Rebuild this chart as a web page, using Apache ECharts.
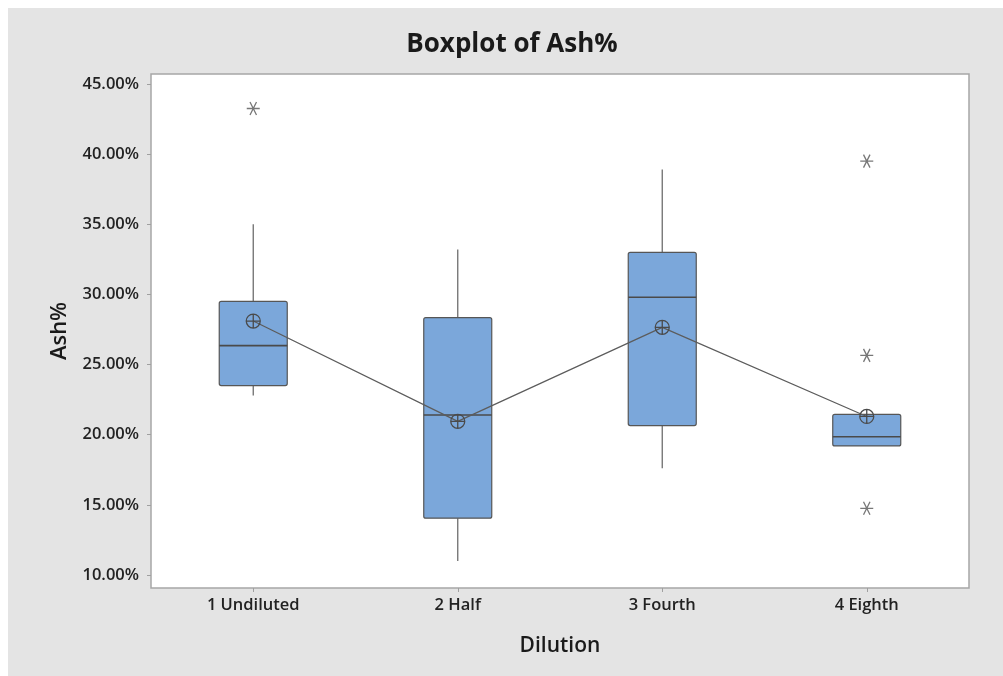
<!DOCTYPE html>
<html>
<head>
<meta charset="utf-8">
<title>Boxplot of Ash%</title>
<script src="https://cdn.jsdelivr.net/npm/echarts@6/dist/echarts.min.js"></script>
<style>
  html, body { margin: 0; padding: 0; background: #ffffff; }
  #chart { position: absolute; left: 8px; top: 8px; width: 995px; height: 668px; }
</style>
</head>
<body>
<div id="chart"></div>
<script>
// Dilution groups along the x axis
const categories = ['1 Undiluted', '2 Half', '3 Fourth', '4 Eighth'];

// Five-number summaries per group (values in %)
const whiskerLow  = [22.8, 11.0, 17.6, 19.2];
const quartile1   = [23.5, 14.05, 20.65, 19.2];
const medians     = [26.35, 21.4, 29.8, 19.85];
const quartile3   = [29.5, 28.35, 33.0, 21.45];
const whiskerHigh = [35.0, 33.2, 38.9, 21.45];

// Group means, joined by the connect line
const means = [28.1, 20.95, 27.65, 21.3];

// Outliers as [group index, value]
const outliers = [[0, 43.25], [3, 39.5], [3, 25.65], [3, 14.75]];

// Y axis tick values
const yTicks = [10, 15, 20, 25, 30, 35, 40, 45];

const boxData = categories.map((c, i) => [i, whiskerLow[i], quartile1[i], medians[i], quartile3[i], whiskerHigh[i]]);

const FONT = '"Open Sans", "Noto Sans", sans-serif';
const BOX_W = 68;

// Minitab-style symbols
const meanSymbol = 'path://M0,7 A7,7 0 1,1 14,7 A7,7 0 1,1 0,7 Z M7,0 L7,14 M0,7 L14,7';
const starSymbol = 'path://M0,6 L12,6 M3,0.8 L9,11.2 M9,0.8 L3,11.2';

function renderBox(params, api) {
  const x = api.value(0);
  const pLow = api.coord([x, api.value(1)]);
  const pQ1 = api.coord([x, api.value(2)]);
  const pMed = api.coord([x, api.value(3)]);
  const pQ3 = api.coord([x, api.value(4)]);
  const pHigh = api.coord([x, api.value(5)]);
  const cx = pQ1[0];
  const half = BOX_W / 2;
  const children = [];
  if (pHigh[1] < pQ3[1] - 0.5) {
    children.push({ type: 'line', shape: { x1: cx, y1: pQ3[1], x2: cx, y2: pHigh[1] },
      style: { stroke: '#6e6e6e', lineWidth: 1.3 } });
  }
  if (pLow[1] > pQ1[1] + 0.5) {
    children.push({ type: 'line', shape: { x1: cx, y1: pQ1[1], x2: cx, y2: pLow[1] },
      style: { stroke: '#6e6e6e', lineWidth: 1.3 } });
  }
  children.push({ type: 'rect',
    shape: { x: cx - half, y: pQ3[1], width: BOX_W, height: pQ1[1] - pQ3[1], r: 2 },
    style: { fill: '#7ba7da', stroke: '#565656', lineWidth: 1.2 } });
  children.push({ type: 'line', shape: { x1: cx - half, y1: pMed[1], x2: cx + half, y2: pMed[1] },
    style: { stroke: '#4a4a4a', lineWidth: 1.6 } });
  return { type: 'group', children: children };
}

const chart = echarts.init(document.getElementById('chart'), null, { renderer: 'canvas' });

chart.setOption({
  backgroundColor: '#e4e4e4',
  animation: false,
  title: {
    text: 'Boxplot of Ash%',
    left: 499,
    textAlign: 'center',
    top: 19,
    textStyle: { fontFamily: FONT, fontSize: 26, fontWeight: 700, color: '#1a1a1a' }
  },
  grid: {
    left: 143, top: 66, right: 34, bottom: 88,
    show: true, backgroundColor: '#ffffff', borderColor: '#a6a6a6', borderWidth: 1.5
  },
  xAxis: {
    type: 'category',
    data: categories,
    boundaryGap: true,
    name: 'Dilution',
    nameLocation: 'middle',
    nameGap: 48,
    nameTextStyle: { fontFamily: FONT, fontSize: 21, fontWeight: 600, color: '#1a1a1a' },
    axisLine: { show: false },
    axisTick: { show: true, alignWithLabel: true, length: 4, lineStyle: { color: '#a0a0a0' } },
    axisLabel: { margin: 9, fontFamily: FONT, fontSize: 16.5, fontWeight: 600, color: '#222' },
    splitLine: { show: false }
  },
  yAxis: {
    type: 'value',
    min: 9.07,
    max: 45.71,
    name: 'Ash%',
    nameLocation: 'middle',
    nameRotate: 90,
    nameGap: 80,
    nameTextStyle: { fontFamily: FONT, fontSize: 22, fontWeight: 600, color: '#1a1a1a' },
    axisLine: { show: false },
    axisTick: { show: true, length: 4, customValues: yTicks, lineStyle: { color: '#a0a0a0' } },
    axisLabel: {
      customValues: yTicks,
      margin: 12,
      fontFamily: FONT, fontSize: 16.5, fontWeight: 600, color: '#222',
      formatter: v => v.toFixed(2) + '%'
    },
    splitLine: { show: false }
  },
  series: [
    {
      type: 'custom',
      name: 'Box',
      renderItem: renderBox,
      encode: { x: 0, y: [1, 2, 3, 4, 5] },
      data: boxData,
      z: 2
    },
    {
      type: 'line',
      name: 'Mean',
      data: means,
      symbol: meanSymbol,
      symbolSize: 14,
      lineStyle: { color: '#5c5c5c', width: 1.2 },
      itemStyle: { color: 'rgba(0,0,0,0)', borderColor: '#4a4a4a', borderWidth: 1.3 },
      z: 4
    },
    {
      type: 'scatter',
      name: 'Outliers',
      data: outliers,
      symbol: starSymbol,
      symbolSize: 13,
      itemStyle: { color: 'rgba(0,0,0,0)', borderColor: '#555555', borderWidth: 1.3 },
      z: 5
    }
  ]
});
</script>
</body>
</html>
